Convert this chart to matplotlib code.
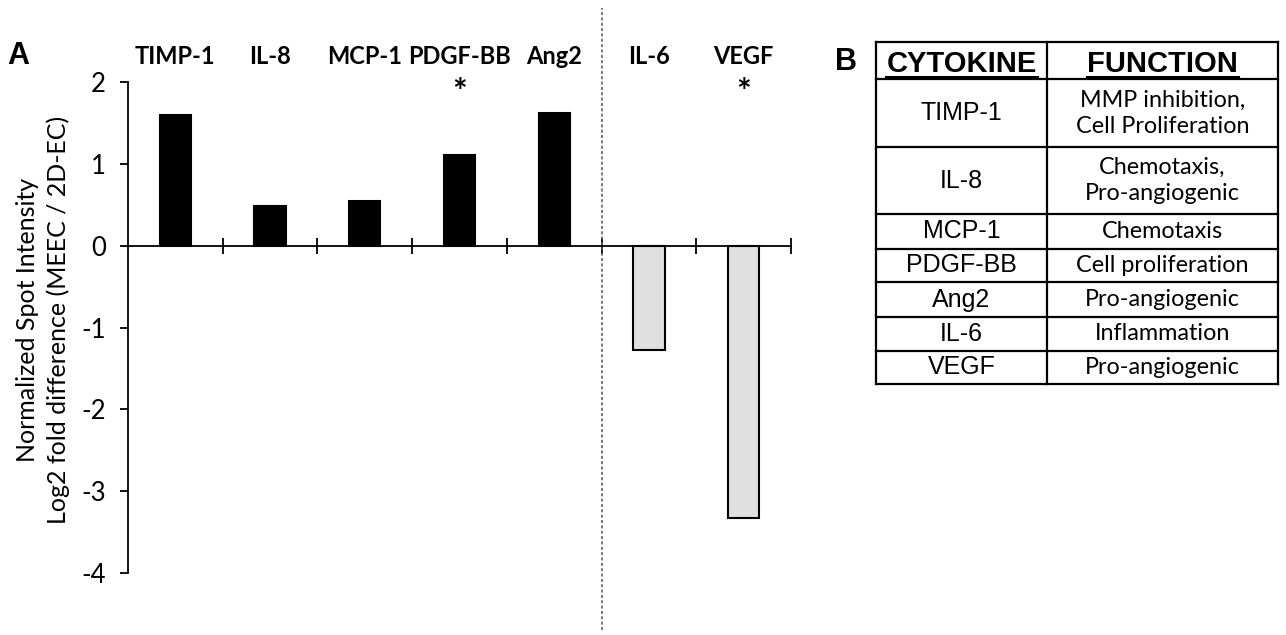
import matplotlib
matplotlib.use("Agg")
import matplotlib.pyplot as plt
import matplotlib.transforms as mtransforms
import numpy as np

# data
cytokines = ["TIMP-1", "IL-8", "MCP-1", "PDGF-BB", "Ang2", "IL-6", "VEGF"]
log2_diff = [1.60, 0.48, 0.54, 1.11, 1.62, -1.28, -3.33]
significant = [False, False, False, True, False, False, True]
functions = ["MMP inhibition,\nCell Proliferation", "Chemotaxis,\nPro-angiogenic",
             "Chemotaxis", "Cell proliferation", "Pro-angiogenic",
             "Inflammation", "Pro-angiogenic"]
yticks = [-4, -3, -2, -1, 0, 1, 2]

W, H = 1286, 635
fig = plt.figure(figsize=(W / 100, H / 100), dpi=100)

# ---- panel A ----
ax = fig.add_axes([128 / W, 1 - 573 / H, 663 / W, 491 / H])
x = np.arange(len(cytokines))
colors = ["black" if v > 0 else "#e0e0e0" for v in log2_diff]
ax.bar(x, log2_diff, width=0.33, color=colors, edgecolor="black", linewidth=1.5, zorder=3)

ax.set_xlim(-0.5, len(cytokines) - 0.5)
ax.set_ylim(-4, 2)
ax.set_yticks(yticks)
ax.set_yticklabels([str(t) for t in yticks], family="Lato", fontsize=18.5)
ax.set_xticks(list(x + 0.5))
ax.set_xticklabels([])

ax.spines["top"].set_visible(False)
ax.spines["right"].set_visible(False)
ax.spines["bottom"].set_position(("data", 0))
ax.spines["left"].set_linewidth(1.3)
ax.spines["bottom"].set_linewidth(1.3)
ax.tick_params(axis="x", direction="inout", length=11, width=1.3)
ax.tick_params(axis="y", direction="out", length=6, width=1.3, pad=10)

# category labels and stars above the plot
trans = mtransforms.blended_transform_factory(ax.transData, fig.transFigure)
for i, name in enumerate(cytokines):
    ax.text(i, 1 - 56 / H, name, transform=trans, ha="center", va="center",
            family="Lato", fontweight="bold", fontsize=17)
    if significant[i]:
        ax.text(i, 1 - 93 / H, "*", transform=trans, ha="center", va="center",
                family="Lato", fontweight="bold", fontsize=25)

# dashed separator between up- and down-regulated
ax.axvline(4.5, ymin=(573 - 630) / 491, ymax=(573 - 8) / 491, clip_on=False,
           color="#555555", linestyle=(0, (2, 1.5)), linewidth=1.1)

fig.text(43 / W, 1 - 320 / H,
         "Normalized Spot Intensity\nLog2 fold difference (MEEC / 2D-EC)",
         rotation=90, ha="center", va="center", multialignment="center",
         family="Lato", fontsize=18, linespacing=1.35)

fig.text(18 / W, 1 - 56 / H, "A", ha="center", va="center",
         family="Liberation Sans", fontweight="bold", fontsize=22)
fig.text(846 / W, 1 - 62 / H, "B", ha="center", va="center",
         family="Liberation Sans", fontweight="bold", fontsize=22)

# ---- panel B: table ----
tx0, tx1, tmid = 876, 1278, 1047
rows = [42, 79, 147, 214, 249, 282, 317, 351, 384]
tb = fig.add_axes([tx0 / W, 1 - rows[-1] / H, (tx1 - tx0) / W, (rows[-1] - rows[0]) / H])
tb.set_xlim(tx0, tx1)
tb.set_ylim(rows[-1], rows[0])
tb.axis("off")

lw = 1.6
for y in rows:
    tb.plot([tx0, tx1], [y, y], color="black", lw=lw, clip_on=False, solid_capstyle="projecting")
for xx in [tx0, tmid, tx1]:
    tb.plot([xx, xx], [rows[0], rows[-1]], color="black", lw=lw, clip_on=False, solid_capstyle="projecting")

c1 = (tx0 + tmid) / 2
c2 = (tmid + tx1) / 2
hy = (rows[0] + rows[1]) / 2
headers = []
for cx, lab in [(c1, "CYTOKINE"), (c2, "FUNCTION")]:
    headers.append(tb.text(cx, hy + 3, lab, ha="center", va="center",
                           family="Liberation Sans", fontweight="bold", fontsize=21))

for i, (name, func) in enumerate(zip(cytokines, functions)):
    cy = (rows[i + 1] + rows[i + 2]) / 2
    tb.text(c1, cy, name, ha="center", va="center", family="Liberation Sans", fontsize=18)
    tb.text(c2, cy, func, ha="center", va="center", family="Lato", fontsize=16.8,
            multialignment="center", linespacing=1.3)

# underline header text
fig.canvas.draw()
inv = tb.transData.inverted()
for t in headers:
    bb = t.get_window_extent()
    (xa, _), (xb, _) = inv.transform([[bb.x0, 0], [bb.x1, 0]])
    tb.plot([xa, xb], [77, 77], color="black", lw=2.2, clip_on=False)

fig.savefig("out.png", dpi=100)
